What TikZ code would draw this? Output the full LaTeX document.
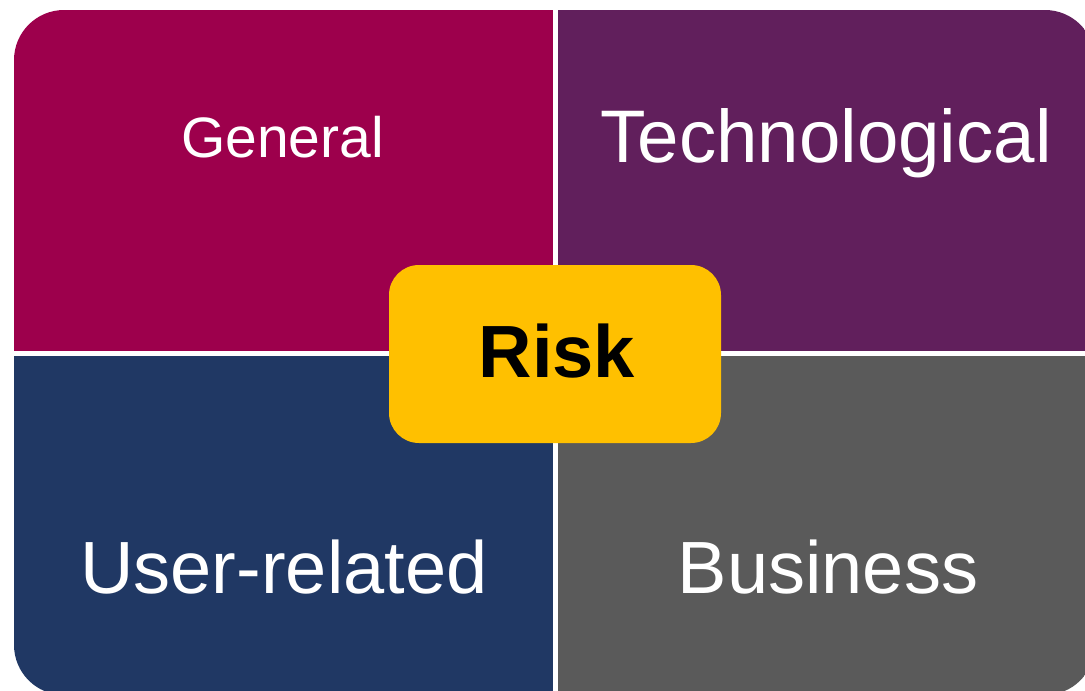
\documentclass[tikz,border=0pt]{standalone}
\usepackage{fontspec}
\setmainfont{Liberation Sans}
\definecolor{cGen}{HTML}{9D004C}
\definecolor{cTech}{HTML}{611F5C}
\definecolor{cUser}{HTML}{203864}
\definecolor{cBus}{HTML}{5A5A5A}
\definecolor{cRisk}{HTML}{FFC000}
\tikzset{
  quadlabel/.style={anchor=base, inner sep=0pt, text=white},
}
\begin{document}
\begin{tikzpicture}[x=1pt,y=-1pt]
\useasboundingbox (0,0) rectangle (1085,691);
\begin{scope}
  \clip[rounded corners=50pt] (14,10) rectangle (1095,695);
  \fill[cGen]  (14,10) rectangle (552.5,351);
  \fill[cTech] (557.5,10) rectangle (1095,351);
  \fill[cUser] (14,355.5) rectangle (552.5,695);
  \fill[cBus]  (557.5,355.5) rectangle (1095,695);
\end{scope}
\node[quadlabel, font=\fontsize{57}{60}\selectfont] (gen) at (282.5,157) {General};
\node[quadlabel, font=\fontsize{74.5}{80}\selectfont] (tech) at (826,162) {Technological};
\node[quadlabel, font=\fontsize{74}{80}\selectfont] (user) at (284,593) {User-related};
\node[quadlabel, font=\fontsize{74}{80}\selectfont] (bus) at (828,593) {Business};
\node[fill=cRisk, rounded corners=30pt, minimum width=332pt, minimum height=178pt, inner sep=0pt] (riskbox) at (555,354) {};
\node[anchor=base, inner sep=0pt, font=\fontsize{74}{80}\selectfont\bfseries] (risk) at (557,377) {Risk};
\end{tikzpicture}
\end{document}
